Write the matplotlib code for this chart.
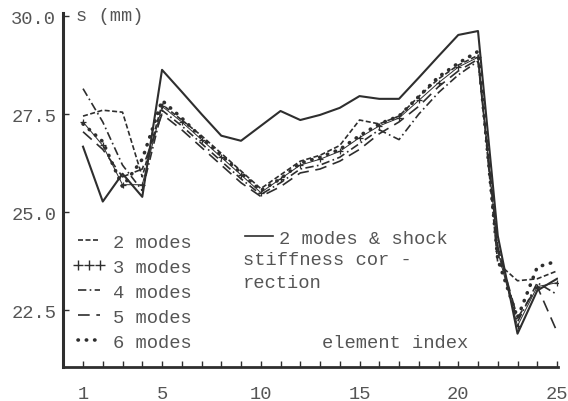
import numpy as np
import matplotlib.pyplot as plt
from matplotlib.lines import Line2D

plt.rcParams['font.family'] = ['Liberation Mono', 'DejaVu Sans Mono']

# element index 1..25
elem = list(range(1, 26))

# 2 modes & shock stiffness correction (solid)
shock = [26.67, 25.27, 25.98, 25.39, 28.63, 28.07, 27.5, 26.95, 26.82, 27.2,
         27.58, 27.35, 27.48, 27.66, 27.96, 27.89, 27.89, 28.43, 28.98, 29.52,
         29.62, 24.4, 21.9, 23.0, 23.3]
m2 = [27.45, 27.6, 27.55, 25.9, 27.75, 27.35, 26.95, 26.5, 26.05, 25.6,
      25.95, 26.3, 26.45, 26.7, 27.35, 27.25, 27.45, 27.95, 28.4, 28.75,
      29.0, 23.7, 23.25, 23.3, 23.5]
m3 = [27.3, 26.7, 25.7, 25.7, 27.7, 27.3, 26.85, 26.4, 25.95, 25.5,
      25.85, 26.2, 26.35, 26.55, 26.9, 27.2, 27.4, 27.85, 28.3, 28.7,
      28.95, 24.0, 22.1, 23.1, 23.2]
m4 = [28.15, 27.3, 26.2, 25.55, 27.6, 27.2, 26.75, 26.3, 25.85, 25.45,
      25.75, 26.1, 26.2, 26.4, 26.75, 27.1, 26.85, 27.5, 28.05, 28.5,
      28.85, 24.1, 22.2, 23.2, 22.9]
m5 = [27.05, 26.6, 25.9, 26.1, 27.5, 27.1, 26.65, 26.2, 25.75, 25.4,
      25.65, 26.0, 26.1, 26.3, 26.6, 27.0, 27.3, 27.7, 28.2, 28.6,
      28.9, 24.1, 22.3, 23.1, 21.95]
m6 = [27.25, 26.8, 25.65, 26.35, 27.85, 27.4, 26.9, 26.45, 26.0, 25.55,
      25.85, 26.25, 26.4, 26.6, 26.95, 27.25, 27.45, 27.95, 28.45, 28.8,
      29.1, 23.8, 22.3, 23.6, 23.75]

xticks = [1, 5, 10, 15, 20, 25]
yticks = [22.5, 25.0, 27.5, 30.0]

ink = '#2e2e2e'
txt = '#555555'
fs = 13.5

fig = plt.figure(figsize=(5.68, 4.02), dpi=100)
ax = fig.add_axes([0.1114, 0.0846, 0.871, 0.8806])

ax.plot(elem, shock, color=ink, lw=1.5)
ax.plot(elem, m2, color=ink, lw=1.2, ls=(0, (3, 1.5)))
ax.plot(elem, m3, color=ink, lw=0.7, marker='+', ms=5, mew=0.9)
ax.plot(elem, m4, color=ink, lw=1.2, ls=(0, (5, 2, 1, 2)))
ax.plot(elem, m5, color=ink, lw=1.2, ls=(0, (7, 4)))
ax.plot(elem, m6, color=ink, lw=2.6, ls=(0, (0.1, 2.2)), dash_capstyle='round')

ax.set_xlim(0, 25.05)
ax.set_ylim(21.05, 30.08)
ax.set_xticks(range(1, 26))
ax.set_xticklabels([str(i) if i in xticks else '' for i in range(1, 26)])
ax.set_yticks(yticks)
ax.set_yticklabels(['%.1f' % v for v in yticks])

for s in ['top', 'right']:
    ax.spines[s].set_visible(False)
ax.spines['left'].set_linewidth(2.2)
ax.spines['bottom'].set_linewidth(2.0)
ax.spines['left'].set_color(ink)
ax.spines['bottom'].set_color(ink)
ax.tick_params(axis='both', direction='in', length=4, width=1, color=ink,
               labelsize=fs, labelcolor=txt)
ax.tick_params(axis='x', pad=13)
ax.tick_params(axis='y', pad=5)

ax.text(0.025, 0.992, 's (mm)', transform=ax.transAxes, fontsize=fs,
        color=txt, va='center', ha='left')
ax.text(0.522, 0.07, 'element index', transform=ax.transAxes, fontsize=fs,
        color=txt, va='center', ha='left')

handles = [
    Line2D([], [], color=ink, lw=1.2, ls=(0, (3, 1.5))),
    Line2D([], [], color=ink, ls='none', marker='+', ms=7, mew=1.0),
    Line2D([], [], color=ink, lw=1.2, ls=(0, (5, 2, 1, 2))),
    Line2D([], [], color=ink, lw=1.2, ls=(0, (7, 4))),
    Line2D([], [], color=ink, lw=2.6, ls=(0, (0.1, 2.2)), dash_capstyle='round'),
]
labels = ['2 modes', '3 modes', '4 modes', '5 modes', '6 modes']
leg1 = ax.legend(handles, labels, loc='upper left', bbox_to_anchor=(-0.016, 0.424),
                 frameon=False, fontsize=fs, handlelength=1.8, handletextpad=0.4,
                 labelspacing=0.42, numpoints=3, labelcolor=txt)
ax.add_artist(leg1)

leg2 = ax.legend([Line2D([], [], color=ink, lw=1.2)], ['2 modes & shock'],
                 loc='upper left', bbox_to_anchor=(0.333, 0.435), frameon=False,
                 fontsize=fs, handlelength=1.5, handletextpad=0.3, labelcolor=txt)
ax.text(0.363, 0.328, 'stiffness cor -\nrection', transform=ax.transAxes,
        fontsize=fs, color=txt, va='top', ha='left', linespacing=1.45)

fig.savefig('out.png', dpi=100)
